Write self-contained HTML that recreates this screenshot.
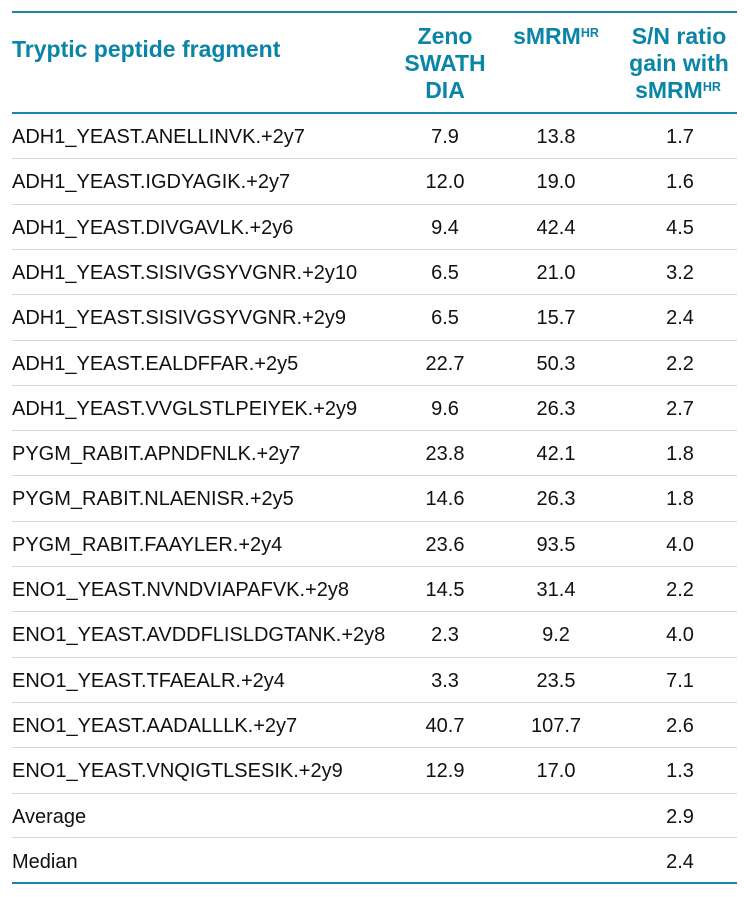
<!DOCTYPE html>
<html>
<head>
<meta charset="utf-8">
<style>
  html, body { margin: 0; padding: 0; background: #ffffff; }
  body { width: 750px; height: 897px; position: relative; overflow: hidden;
         font-family: "Liberation Sans", Arial, sans-serif; color: #111; }
  .teal { position: absolute; left: 12px; width: 725px; height: 2px; background: #1a85aa; }
  .gray { position: absolute; left: 12px; width: 725px; height: 1px; background: #d6d6d6; }
  .h { position: absolute; font-weight: bold; font-size: 23px; line-height: 27px;
       color: #0a84a7; white-space: nowrap; }
  .hc { width: 160px; text-align: center; }
  .h sup { font-size: 12.5px; vertical-align: 7px; line-height: 0; }
  .row { position: absolute; left: 0; width: 750px; height: 45.3px; }
  .c { position: absolute; top: 2px; font-size: 20px; line-height: 45.3px; white-space: nowrap; }
  .c1 { left: 12px; }
  .c2, .c3, .c4 { width: 120px; text-align: center; }
  .c2 { left: 385px; }
  .c3 { left: 496px; }
  .c4 { left: 620px; }
</style>
</head>
<body>
  <div class="teal" style="top:11px"></div>

  <div class="h" style="left:12px; top:36px;">Tryptic peptide fragment</div>

  <div class="h hc" style="left:365px; top:23px;">Zeno</div>
  <div class="h hc" style="left:365px; top:50px;">SWATH</div>
  <div class="h hc" style="left:365px; top:77px;">DIA</div>

  <div class="h hc" style="left:476px; top:23px;">sMRM<sup>HR</sup></div>

  <div class="h hc" style="left:599px; top:23px;">S/N ratio</div>
  <div class="h hc" style="left:599px; top:50px;">gain with</div>
  <div class="h hc" style="left:598px; top:77px;">sMRM<sup>HR</sup></div>

  <div class="teal" style="top:112px"></div>

  <div class="row" style="top:113px"><span class="c c1">ADH1_YEAST.ANELLINVK.+2y7</span><span class="c c2">7.9</span><span class="c c3">13.8</span><span class="c c4">1.7</span></div>
  <div class="gray" style="top:158px"></div>
  <div class="row" style="top:158.3px"><span class="c c1">ADH1_YEAST.IGDYAGIK.+2y7</span><span class="c c2">12.0</span><span class="c c3">19.0</span><span class="c c4">1.6</span></div>
  <div class="gray" style="top:203.6px"></div>
  <div class="row" style="top:203.6px"><span class="c c1">ADH1_YEAST.DIVGAVLK.+2y6</span><span class="c c2">9.4</span><span class="c c3">42.4</span><span class="c c4">4.5</span></div>
  <div class="gray" style="top:248.9px"></div>
  <div class="row" style="top:248.9px"><span class="c c1">ADH1_YEAST.SISIVGSYVGNR.+2y10</span><span class="c c2">6.5</span><span class="c c3">21.0</span><span class="c c4">3.2</span></div>
  <div class="gray" style="top:294.2px"></div>
  <div class="row" style="top:294.2px"><span class="c c1">ADH1_YEAST.SISIVGSYVGNR.+2y9</span><span class="c c2">6.5</span><span class="c c3">15.7</span><span class="c c4">2.4</span></div>
  <div class="gray" style="top:339.5px"></div>
  <div class="row" style="top:339.5px"><span class="c c1">ADH1_YEAST.EALDFFAR.+2y5</span><span class="c c2">22.7</span><span class="c c3">50.3</span><span class="c c4">2.2</span></div>
  <div class="gray" style="top:384.8px"></div>
  <div class="row" style="top:384.8px"><span class="c c1">ADH1_YEAST.VVGLSTLPEIYEK.+2y9</span><span class="c c2">9.6</span><span class="c c3">26.3</span><span class="c c4">2.7</span></div>
  <div class="gray" style="top:430.1px"></div>
  <div class="row" style="top:430.1px"><span class="c c1">PYGM_RABIT.APNDFNLK.+2y7</span><span class="c c2">23.8</span><span class="c c3">42.1</span><span class="c c4">1.8</span></div>
  <div class="gray" style="top:475.4px"></div>
  <div class="row" style="top:475.4px"><span class="c c1">PYGM_RABIT.NLAENISR.+2y5</span><span class="c c2">14.6</span><span class="c c3">26.3</span><span class="c c4">1.8</span></div>
  <div class="gray" style="top:520.7px"></div>
  <div class="row" style="top:520.7px"><span class="c c1">PYGM_RABIT.FAAYLER.+2y4</span><span class="c c2">23.6</span><span class="c c3">93.5</span><span class="c c4">4.0</span></div>
  <div class="gray" style="top:566px"></div>
  <div class="row" style="top:566px"><span class="c c1">ENO1_YEAST.NVNDVIAPAFVK.+2y8</span><span class="c c2">14.5</span><span class="c c3">31.4</span><span class="c c4">2.2</span></div>
  <div class="gray" style="top:611.3px"></div>
  <div class="row" style="top:611.3px"><span class="c c1">ENO1_YEAST.AVDDFLISLDGTANK.+2y8</span><span class="c c2">2.3</span><span class="c c3">9.2</span><span class="c c4">4.0</span></div>
  <div class="gray" style="top:656.6px"></div>
  <div class="row" style="top:656.6px"><span class="c c1">ENO1_YEAST.TFAEALR.+2y4</span><span class="c c2">3.3</span><span class="c c3">23.5</span><span class="c c4">7.1</span></div>
  <div class="gray" style="top:701.9px"></div>
  <div class="row" style="top:701.9px"><span class="c c1">ENO1_YEAST.AADALLLK.+2y7</span><span class="c c2">40.7</span><span class="c c3">107.7</span><span class="c c4">2.6</span></div>
  <div class="gray" style="top:747.2px"></div>
  <div class="row" style="top:747.2px"><span class="c c1">ENO1_YEAST.VNQIGTLSESIK.+2y9</span><span class="c c2">12.9</span><span class="c c3">17.0</span><span class="c c4">1.3</span></div>
  <div class="gray" style="top:792.5px"></div>
  <div class="row" style="top:792.5px"><span class="c c1">Average</span><span class="c c4">2.9</span></div>
  <div class="gray" style="top:837.3px"></div>
  <div class="row" style="top:837.8px"><span class="c c1">Median</span><span class="c c4">2.4</span></div>

  <div class="teal" style="top:882px"></div>
</body>
</html>
